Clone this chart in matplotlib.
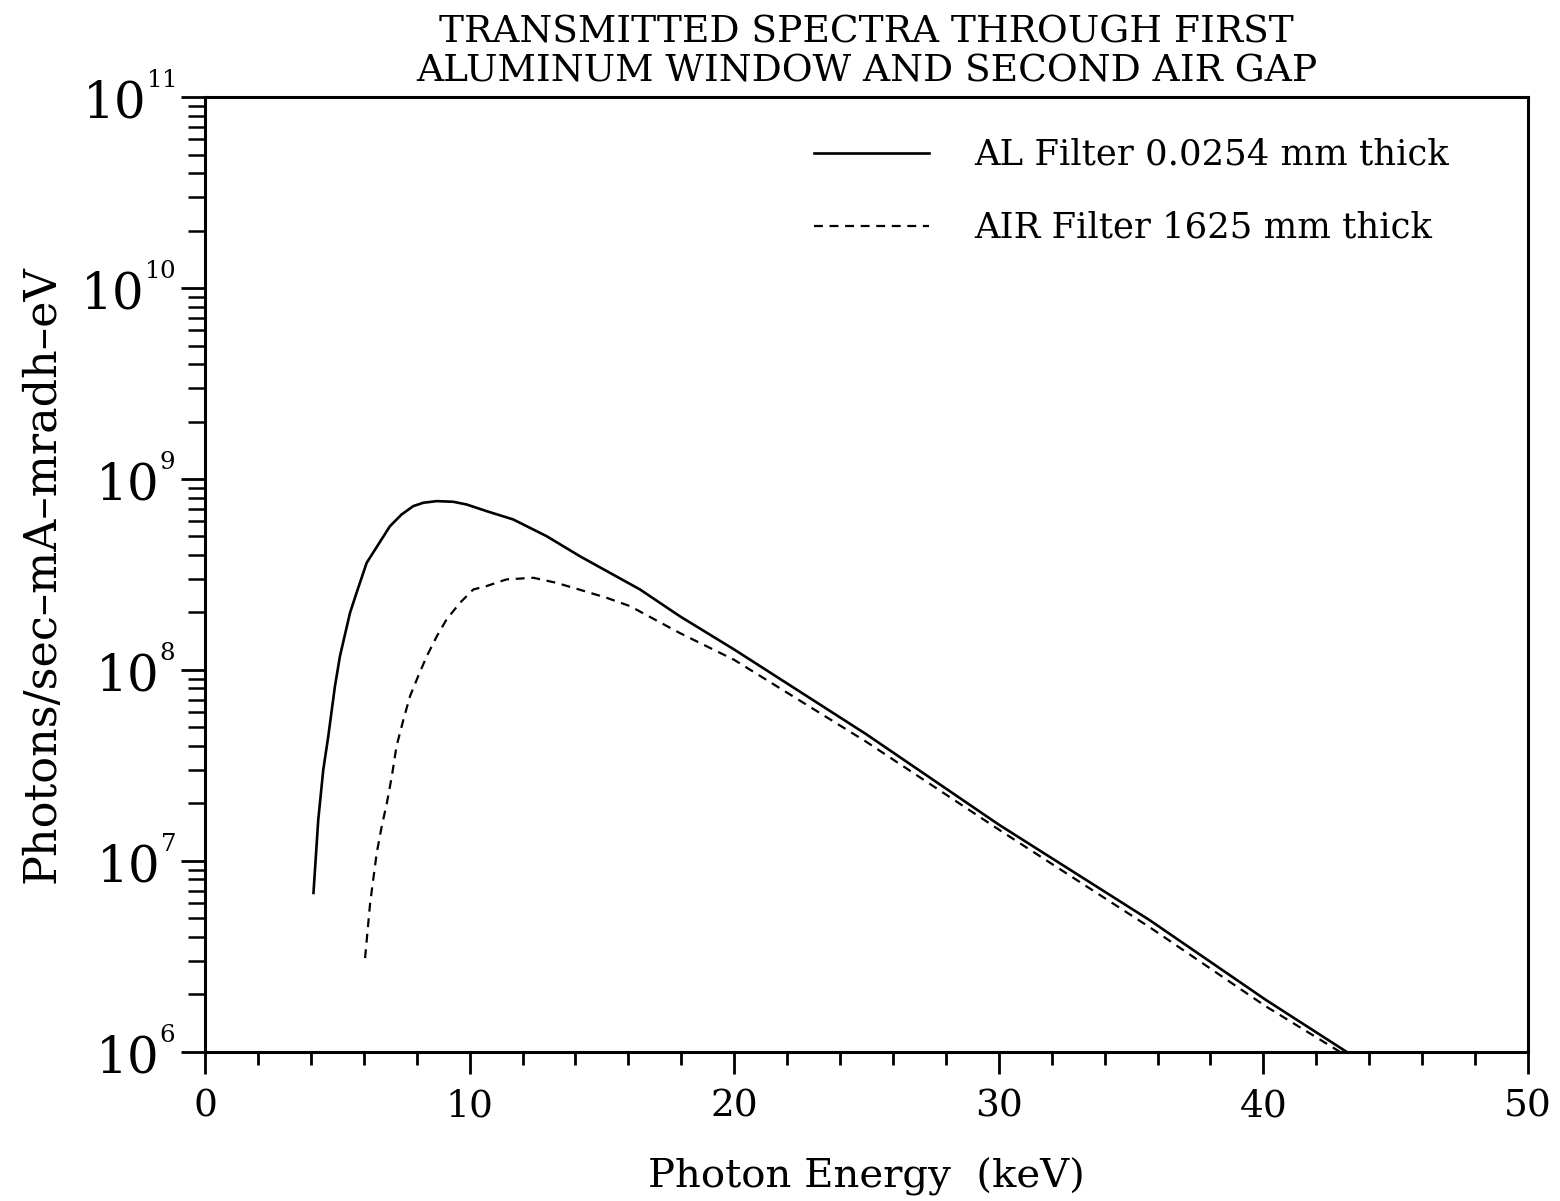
import matplotlib
matplotlib.use("Agg")
import matplotlib.pyplot as plt
from matplotlib.ticker import LogLocator, MultipleLocator, FixedLocator
import numpy as np

plt.rcParams['font.family'] = ['DejaVu Serif']
plt.rcParams['mathtext.fontset'] = 'dejavuserif'

# Solid curve: Al filter 0.0254 mm
al_energy = [4.1, 4.28, 4.47, 4.66, 4.91, 5.10, 5.48, 5.73, 6.11, 6.55, 6.99, 7.43,
             7.87, 8.25, 8.76, 9.38, 9.88, 10.64, 11.65, 12.91, 14.17, 16.44, 17.95,
             20.0, 25.0, 30.0, 35.7, 40.1, 43.15]
al_flux = [6.8e6, 1.64e7, 3.0e7, 4.5e7, 8.2e7, 1.18e8, 1.99e8, 2.54e8, 3.64e8, 4.54e8,
           5.66e8, 6.52e8, 7.21e8, 7.51e8, 7.66e8, 7.6e8, 7.36e8, 6.79e8, 6.14e8,
           5.02e8, 3.94e8, 2.64e8, 1.91e8, 1.28e8, 4.6e7, 1.55e7, 4.9e6, 1.87e6, 1.0e6]

# Dashed curve: air filter 1625 mm
air_energy = [6.05, 6.24, 6.49, 6.68, 6.87, 7.06, 7.24, 7.50, 7.75, 8.06, 8.38, 8.76,
              9.13, 9.64, 10.14, 10.64, 11.39, 11.9, 12.41, 13.28, 14.17, 15.17,
              16.06, 17.95, 20.0, 25.0, 30.0, 35.7, 40.1, 42.9]
air_flux = [3.1e6, 6.0e6, 1.1e7, 1.52e7, 2.0e7, 2.77e7, 4.0e7, 5.5e7, 7.3e7, 9.3e7,
            1.18e8, 1.5e8, 1.84e8, 2.25e8, 2.64e8, 2.75e8, 2.98e8, 3.01e8, 3.04e8,
            2.86e8, 2.63e8, 2.39e8, 2.16e8, 1.56e8, 1.13e8, 4.2e7, 1.46e7, 4.5e6,
            1.73e6, 1.0e6]

labels = ['AL Filter 0.0254 mm thick', 'AIR Filter 1625 mm thick']
x_ticks = [0, 10, 20, 30, 40, 50]
y_exps = [6, 7, 8, 9, 10, 11]

fig = plt.figure(figsize=(15.6, 12.01), dpi=100)
ax = fig.add_axes([0.1314, 0.1241, 0.8481, 0.7951])

ax.plot(al_energy, al_flux, color='black', lw=1.9, label=labels[0])
ax.plot(air_energy, air_flux, color='black', lw=1.6, dashes=(4, 3), label=labels[1])

ax.set_yscale('log')
ax.set_xlim(0, 50)
ax.set_ylim(1e6, 1e11)

ax.xaxis.set_major_locator(FixedLocator(x_ticks))
ax.xaxis.set_minor_locator(MultipleLocator(2))
ax.set_xticklabels([str(v) for v in x_ticks])
ax.yaxis.set_major_locator(FixedLocator([10.0 ** e for e in y_exps]))
ax.yaxis.set_minor_locator(LogLocator(base=10, subs=np.arange(2, 10)))
ax.set_yticklabels([r'$10^{{}^{%d}}$' % e for e in y_exps])

for s in ax.spines.values():
    s.set_linewidth(2.2)

ax.tick_params(axis='x', which='major', direction='out', length=16, width=2, labelsize=27, pad=10)
ax.tick_params(axis='x', which='minor', direction='out', length=9, width=2)
ax.tick_params(axis='y', which='major', direction='out', length=17, width=2, labelsize=36, pad=4)
ax.tick_params(axis='y', which='minor', direction='out', length=12, width=1.8)
ax.tick_params(top=False, right=False, which='both')

ax.set_xlabel('Photon Energy  (keV)', fontsize=29, labelpad=24)
ax.set_ylabel('Photons/sec\u2013mA\u2013mradh\u2013eV', fontsize=32, labelpad=12)
ax.set_title('TRANSMITTED SPECTRA THROUGH FIRST\nALUMINUM WINDOW AND SECOND AIR GAP',
             fontsize=27, linespacing=1.12, pad=11)

ax.legend(loc='upper right', bbox_to_anchor=(0.951, 0.972), borderaxespad=0,
          frameon=False, fontsize=25.5, handlelength=3.25,
          handletextpad=1.27, labelspacing=1.1)

fig.savefig('out.png', dpi=100)
